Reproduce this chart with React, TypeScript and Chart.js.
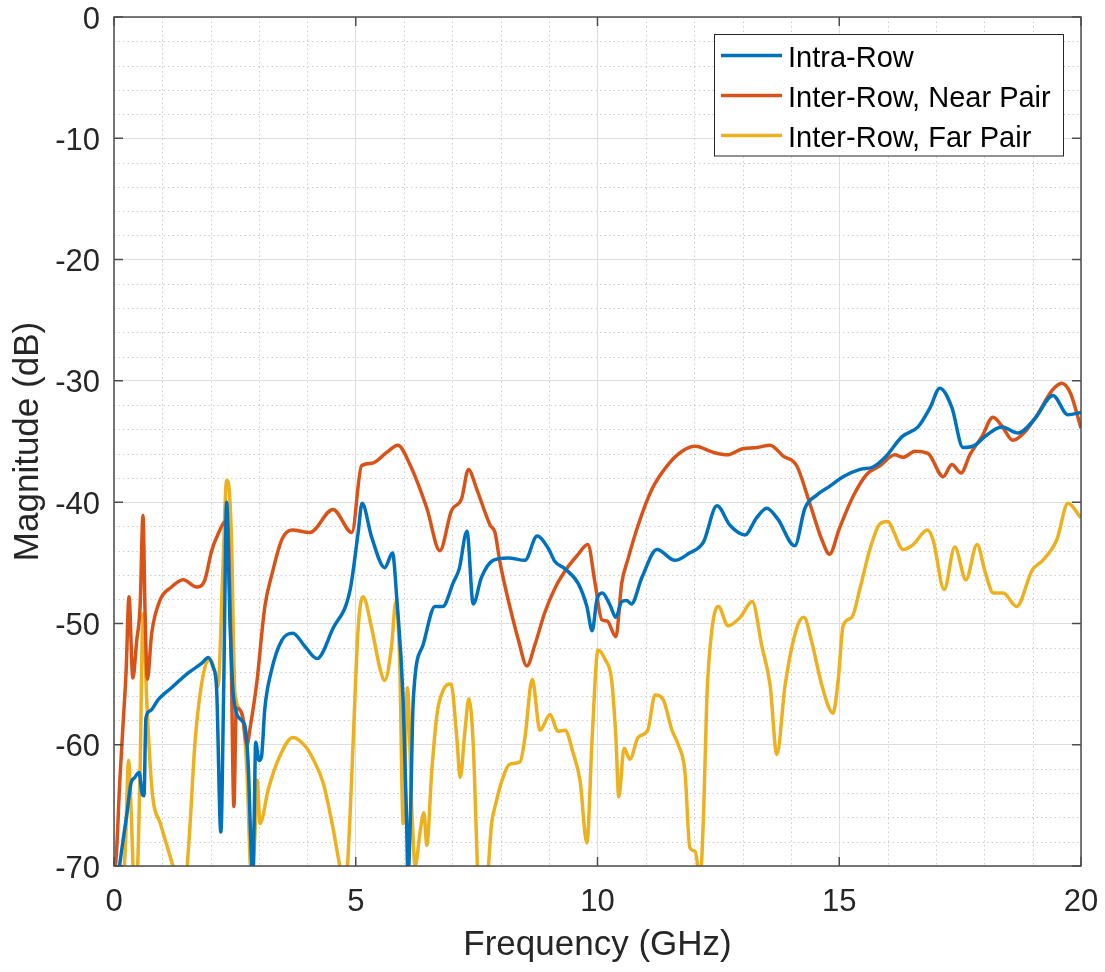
import React, { useEffect, useRef } from 'react';
import { Chart, registerables } from 'chart.js';

Chart.register(...registerables);

const FONT = "'Liberation Sans', Arial, Helvetica, sans-serif";
const TEXT_COLOR = '#262626';

const seriesLabels = ['Intra-Row', 'Inter-Row, Near Pair', 'Inter-Row, Far Pair'];
const seriesColors = ['#0072BD', '#D95319', '#EDB120'];

const xTitle = 'Frequency (GHz)';
const yTitle = 'Magnitude (dB)';
const xMin = 0, xMax = 20, xMajorStep = 5, xMinorStep = 1;
const yMin = -70, yMax = 0, yMajorStep = 10, yMinorStep = 2;

const intraFreq = [0.08,0.19,0.27,0.35,0.43,0.52,0.58,0.62,0.66,0.75,0.91,1.19,1.53,1.81,1.95,2.05,2.12,2.21,2.27,2.33,2.40,2.47,2.64,2.71,2.78,2.83,2.87,2.90,2.93,3.00,3.05,3.12,3.25,3.47,3.70,3.95,4.20,4.53,4.88,5.05,5.13,5.33,5.60,5.76,5.85,5.98,6.05,6.08,6.13,6.19,6.39,6.64,6.80,7.02,7.14,7.30,7.43,7.60,7.84,8.15,8.50,8.75,8.98,9.12,9.33,9.60,9.78,9.89,9.99,10.10,10.26,10.38,10.50,10.60,10.70,10.92,11.23,11.60,11.90,12.19,12.47,12.74,13.05,13.29,13.50,13.73,14.08,14.29,14.54,14.80,15.08,15.43,15.70,15.95,16.30,16.63,16.88,17.08,17.33,17.56,17.81,18.01,18.36,18.70,19.05,19.42,19.73,20.00];
const intraMag = [-71,-67.8,-65.6,-63.2,-62.7,-62.3,-64,-64.2,-57.8,-57.2,-56.3,-55.3,-54.1,-53.3,-52.8,-53.6,-55.2,-67.2,-55,-40,-50,-56,-58,-58.5,-62,-68,-71,-66,-59.8,-61.3,-61,-57,-54,-51.4,-50.8,-51.9,-52.9,-50.4,-47.3,-42.5,-40.1,-42.9,-45.4,-44.2,-48,-56.3,-66,-71,-66,-56.3,-51.8,-48.6,-48.6,-46.6,-45.5,-42.4,-48.4,-46.2,-44.8,-44.6,-44.8,-42.8,-43.8,-44.9,-45.5,-46.7,-48.6,-50.6,-48,-47.5,-48.5,-49.5,-48.2,-48.1,-48.4,-46.2,-43.9,-44.8,-44.2,-43.3,-40.3,-41.9,-42.7,-41.3,-40.5,-41.4,-43.6,-40.5,-39.4,-38.7,-37.9,-37.3,-37.1,-36.3,-34.6,-33.8,-32.2,-30.6,-32.2,-35.5,-35.3,-34.6,-33.8,-34.3,-33.1,-31.2,-32.8,-32.6];

const nearFreq = [0.00,0.05,0.12,0.20,0.25,0.31,0.39,0.47,0.54,0.60,0.64,0.69,0.78,0.95,1.19,1.43,1.71,1.88,2.02,2.19,2.27,2.34,2.42,2.48,2.53,2.65,2.75,2.82,2.95,3.12,3.27,3.47,3.68,4.05,4.53,4.92,5.12,5.33,5.64,5.87,6.12,6.47,6.74,6.98,7.19,7.33,7.50,7.78,7.88,7.98,8.15,8.36,8.54,8.71,8.91,9.12,9.36,9.58,9.80,9.95,10.09,10.20,10.38,10.50,10.63,10.84,11.13,11.46,11.75,12.02,12.40,12.68,13.00,13.30,13.57,13.84,14.12,14.39,14.64,14.80,15.00,15.29,15.57,15.84,16.15,16.32,16.57,16.84,17.15,17.33,17.52,17.70,17.95,18.18,18.36,18.59,18.84,19.11,19.40,19.60,19.78,20.00];
const nearMag = [-71,-69,-63,-57.5,-54,-47.8,-54.5,-51.4,-48.6,-41.1,-48.6,-54.6,-50.8,-48.1,-47,-46.4,-47,-46.4,-44,-42.3,-41.7,-41.5,-52,-65.1,-57,-57.5,-60,-58.5,-55,-48.6,-45.9,-43.1,-42.3,-42.5,-40.6,-42.5,-37,-36.8,-35.9,-35.3,-36.9,-40.5,-44,-40.7,-39.7,-37.3,-38.9,-41.9,-42.5,-44.9,-48,-51.3,-53.5,-51.7,-49.1,-47.1,-45.5,-44.4,-43.5,-46.7,-49.7,-49.8,-51.1,-46.7,-44.7,-41.9,-38.9,-36.9,-35.8,-35.4,-35.9,-36.1,-35.6,-35.5,-35.3,-36.2,-37,-40.1,-43.1,-44.3,-42.2,-39.5,-37.7,-37,-36.1,-36.3,-35.8,-36,-37.9,-36.9,-37.6,-36.1,-34.6,-33,-33.7,-34.9,-34.2,-32.7,-30.8,-30.2,-31,-33.9];

const farFreq = [0.20,0.24,0.30,0.36,0.41,0.47,0.54,0.60,0.68,0.75,0.81,0.95,1.10,1.22,1.30,1.48,1.55,1.68,1.88,1.99,2.09,2.15,2.25,2.33,2.37,2.43,2.50,2.64,2.75,2.82,2.86,2.92,2.96,3.02,3.19,3.39,3.70,3.95,4.12,4.33,4.53,4.67,4.72,4.80,4.88,4.95,5.05,5.15,5.33,5.50,5.60,5.74,5.83,5.91,5.98,6.07,6.16,6.23,6.33,6.41,6.47,6.57,6.68,6.81,6.97,7.09,7.16,7.26,7.34,7.43,7.50,7.53,7.71,7.81,7.90,8.02,8.19,8.40,8.50,8.65,8.81,9.02,9.18,9.33,9.49,9.64,9.78,9.89,10.01,10.16,10.29,10.38,10.44,10.55,10.67,10.84,11.04,11.19,11.36,11.54,11.67,11.81,11.91,12.02,12.12,12.20,12.26,12.37,12.50,12.70,12.95,13.20,13.40,13.57,13.71,13.88,14.12,14.27,14.43,14.64,14.87,14.98,15.08,15.26,15.43,15.64,15.84,16.01,16.10,16.32,16.53,16.82,16.94,17.17,17.39,17.62,17.85,18.02,18.19,18.39,18.67,18.99,19.21,19.50,19.73,20.00];
const farMag = [-71,-68,-61.3,-66,-71,-71,-62,-49.2,-56.6,-61.8,-64.6,-66.4,-68.4,-70,-71,-71,-68,-59.6,-53.6,-53,-54.1,-55.2,-45.8,-38.2,-38.5,-43.1,-55.7,-57.4,-62.3,-70,-71,-67,-62.9,-66.5,-63.7,-61.3,-59.4,-60.1,-61.2,-63.2,-66.9,-70,-71,-71,-66,-59.4,-50.4,-47.8,-50.4,-53.7,-54.7,-51.9,-48.2,-53.3,-66.5,-55.3,-65.4,-70,-67.2,-65.6,-68.3,-62.3,-57.5,-55.5,-55,-59.4,-62.7,-58.8,-56.2,-60,-68,-71,-71,-66.5,-64.8,-63,-61.6,-61.4,-59.4,-54.6,-58.8,-57.5,-58.9,-58.8,-60.6,-63,-68.1,-59.4,-52.2,-53,-54.6,-59.4,-64.3,-60.3,-61.2,-59.4,-58.8,-55.9,-56.3,-58.8,-60,-62.3,-68.5,-68.8,-71,-65,-56.3,-50.4,-48.6,-50.2,-49.5,-48.2,-51.9,-55.1,-60.8,-55.1,-50.4,-49.5,-51.5,-55.1,-57.4,-54.6,-50.2,-49.5,-47.1,-43.8,-41.8,-41.6,-42.2,-43.9,-43.5,-42.3,-43.1,-47.2,-43.7,-46.4,-43.5,-45.8,-47.5,-47.5,-48.6,-45.6,-44.8,-43.1,-40.1,-41.3];

const seriesFreq = [intraFreq, nearFreq, farFreq];
const seriesMag = [intraMag, nearMag, farMag];

const matlabAxesPlugin = {
  id: 'matlabAxes',
  beforeDatasetsDraw(chart: any) {
    const { ctx, chartArea: a, scales } = chart;
    const x = scales.x, y = scales.y;
    ctx.save();
    ctx.strokeStyle = '#cdcdcd';
    ctx.lineWidth = 1;
    ctx.setLineDash([1.5, 3]);
    for (let v = xMin; v <= xMax; v += xMinorStep) {
      if (v % xMajorStep === 0) continue;
      const px = Math.round(x.getPixelForValue(v)) + 0.5;
      ctx.beginPath(); ctx.moveTo(px, a.top); ctx.lineTo(px, a.bottom); ctx.stroke();
    }
    for (let v = yMin; v <= yMax; v += yMinorStep) {
      if (v % yMajorStep === 0) continue;
      const py = Math.round(y.getPixelForValue(v)) + 0.5;
      ctx.beginPath(); ctx.moveTo(a.left, py); ctx.lineTo(a.right, py); ctx.stroke();
    }
    ctx.restore();
  },
  afterDatasetsDraw(chart: any) {
    const { ctx, chartArea: a, scales } = chart;
    const x = scales.x, y = scales.y;
    ctx.save();
    ctx.strokeStyle = '#4d4d4d';
    ctx.lineWidth = 1.5;
    ctx.setLineDash([]);
    ctx.strokeRect(a.left, a.top, a.right - a.left, a.bottom - a.top);
    const tl = 9;
    for (let v = xMin; v <= xMax; v += xMajorStep) {
      const px = x.getPixelForValue(v);
      ctx.beginPath();
      ctx.moveTo(px, a.bottom); ctx.lineTo(px, a.bottom - tl);
      ctx.moveTo(px, a.top); ctx.lineTo(px, a.top + tl);
      ctx.stroke();
    }
    for (let v = yMin; v <= yMax; v += yMajorStep) {
      const py = y.getPixelForValue(v);
      ctx.beginPath();
      ctx.moveTo(a.left, py); ctx.lineTo(a.left + tl, py);
      ctx.moveTo(a.right, py); ctx.lineTo(a.right - tl, py);
      ctx.stroke();
    }
    ctx.restore();
  },
  afterDraw(chart: any) {
    const { ctx } = chart;
    const box = { left: 714.5, top: 34.5, right: 1063.5, bottom: 156 };
    ctx.save();
    ctx.fillStyle = '#ffffff';
    ctx.fillRect(box.left, box.top, box.right - box.left, box.bottom - box.top);
    ctx.strokeStyle = '#262626';
    ctx.lineWidth = 1;
    ctx.strokeRect(box.left, box.top, box.right - box.left, box.bottom - box.top);
    ctx.font = `29px ${FONT}`;
    ctx.textBaseline = 'alphabetic';
    ctx.textAlign = 'left';
    const rows = [55.5, 95.5, 135.5];
    chart.data.datasets.forEach((ds: any, i: number) => {
      const yy = rows[i];
      ctx.strokeStyle = ds.borderColor;
      ctx.lineWidth = 3.5;
      ctx.beginPath(); ctx.moveTo(721, yy); ctx.lineTo(782, yy); ctx.stroke();
      ctx.fillStyle = '#000000';
      ctx.fillText(ds.label, 788, yy + 11);
    });
    ctx.restore();
  },
};

const fitX = (s: any) => { s.height = 106; s.paddingLeft = 0; s.paddingRight = 0; s.paddingTop = 0; s.paddingBottom = 0; };
const fitY = (s: any) => { s.width = 114; s.paddingLeft = 0; s.paddingRight = 0; s.paddingTop = 0; s.paddingBottom = 0; };

export default function App() {
  const ref = useRef<HTMLCanvasElement>(null);
  useEffect(() => {
    if (!ref.current) return;
    const datasets = seriesLabels.map((label, i) => ({
      label,
      data: seriesFreq[i].map((f, j) => ({ x: f, y: seriesMag[i][j] })),
      borderColor: seriesColors[i],
      backgroundColor: seriesColors[i],
      borderWidth: 3.5,
      pointRadius: 0,
      fill: false,
      cubicInterpolationMode: 'monotone' as const,
      clip: 0,
    }));
    const chart = new Chart(ref.current, {
      type: 'line',
      data: { datasets },
      plugins: [matlabAxesPlugin],
      options: {
        animation: false,
        responsive: false,
        devicePixelRatio: 1,
        layout: { autoPadding: false, padding: { top: 17, right: 24, left: 0, bottom: 0 } },
        plugins: { legend: { display: false }, tooltip: { enabled: false } },
        scales: {
          x: {
            type: 'linear',
            min: xMin,
            max: xMax,
            afterFit: fitX,
            ticks: { stepSize: xMajorStep, color: TEXT_COLOR, font: { family: FONT, size: 31 }, padding: 18, maxRotation: 0, autoSkip: false },
            grid: { color: '#dedede', lineWidth: 1, drawTicks: false },
            border: { display: false },
            title: { display: true, text: xTitle, color: TEXT_COLOR, font: { family: FONT, size: 35 }, padding: { top: 0, bottom: 6 } },
          },
          y: {
            type: 'linear',
            min: yMin,
            max: yMax,
            afterFit: fitY,
            ticks: { stepSize: yMajorStep, color: TEXT_COLOR, font: { family: FONT, size: 31 }, padding: 14, labelOffset: 3 },
            grid: { color: '#dedede', lineWidth: 1, drawTicks: false },
            border: { display: false },
            title: { display: true, text: yTitle, color: TEXT_COLOR, font: { family: FONT, size: 35 }, padding: { top: 7, bottom: 0 } },
          },
        },
      },
    });
    return () => chart.destroy();
  }, []);
  return (
    <div style={{ position: 'absolute', left: 0, top: 0, width: 1105, height: 972, background: '#ffffff' }}>
      <canvas ref={ref} width={1105} height={972} style={{ display: 'block', width: 1105, height: 972 }} />
    </div>
  );
}
